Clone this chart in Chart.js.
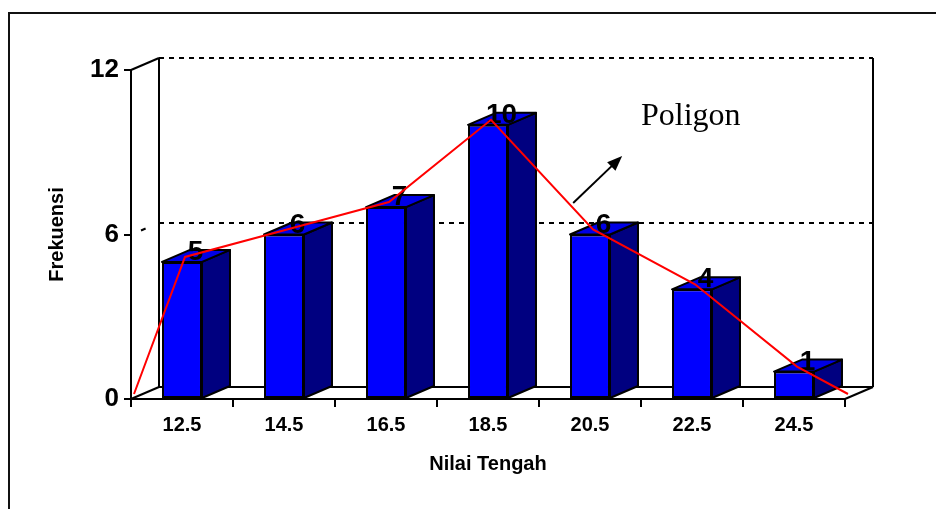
<!DOCTYPE html>
<html>
<head>
<meta charset="utf-8">
<script src="https://cdn.jsdelivr.net/npm/chart.js@4/dist/chart.umd.min.js"></script>
<style>
  html, body { margin: 0; padding: 0; background: #fff; }
  canvas { display: block; }
</style>
</head>
<body>
<canvas id="grafik" width="936" height="509"></canvas>
<script>
// Distribusi frekuensi: nilai tengah kelas dan frekuensinya
const nilaiTengah = ['12.5', '14.5', '16.5', '18.5', '20.5', '22.5', '24.5'];
const frekuensi = [5, 6, 7, 10, 6, 4, 1];
const tickFrekuensi = [0, 6, 12];

// Poligon frekuensi: ditutup di tepi kelas paling bawah dan paling atas
const poligonX = [11.5, 12.5, 14.5, 16.5, 18.5, 20.5, 22.5, 24.5, 25.5];
const poligonY = [0, 5, 6, 7, 10, 6, 4, 1, 0];

const FONT = '"Liberation Sans", Arial, sans-serif';
const KEDALAMAN = { x: 28, y: -12 };   // geseran semu 3D ke belakang

function garis(ctx, x1, y1, x2, y2) {
  ctx.beginPath(); ctx.moveTo(x1, y1); ctx.lineTo(x2, y2); ctx.stroke();
}

// Bingkai luar, dinding belakang, lantai dan garis bantu bergaya 3D
const bingkai3D = {
  id: 'bingkai3D',
  beforeDraw(chart) {
    const ctx = chart.ctx;
    ctx.save();
    ctx.strokeStyle = '#111'; ctx.lineWidth = 2;
    ctx.beginPath(); ctx.moveTo(9, chart.height); ctx.lineTo(9, 13); ctx.lineTo(chart.width, 13); ctx.stroke();
    ctx.restore();
  },
  beforeDatasetsDraw(chart) {
    const { ctx, chartArea: { left, right, top, bottom }, scales: { y } } = chart;
    const dx = KEDALAMAN.x, dy = KEDALAMAN.y;
    const y6 = y.getPixelForValue(6);
    const yBelakang6 = Math.round(y6 + dy);
    const yBelakang12 = Math.round(top + dy);
    ctx.save();
    ctx.strokeStyle = '#000'; ctx.lineWidth = 2;
    garis(ctx, left, top, left + dx, top + dy);
    garis(ctx, left + dx, top + dy, left + dx, bottom + dy);
    garis(ctx, right + dx, top + dy, right + dx, bottom + dy);
    garis(ctx, left + dx, bottom + dy, right + dx, bottom + dy);
    garis(ctx, left, bottom, left + dx, bottom + dy);
    garis(ctx, right, bottom, right + dx, bottom + dy);
    ctx.setLineDash([5, 5]);
    garis(ctx, left + dx, yBelakang12, right + dx, yBelakang12);
    garis(ctx, left + dx, yBelakang6, right + dx, yBelakang6);
    garis(ctx, left + 10, y6 - 4, left + 17, y6 - 7);
    ctx.restore();
  },
  beforeDatasetDraw(chart, args) {
    if (args.index === 1) {
      chart.ctx.save();
      chart.ctx.translate(3, -5);
    }
  },
  afterDatasetDraw(chart, args) {
    const ctx = chart.ctx;
    if (args.index === 1) { ctx.restore(); return; }
    if (args.index !== 0) return;
    const dx = KEDALAMAN.x, dy = KEDALAMAN.y;
    ctx.save();
    ctx.strokeStyle = '#000'; ctx.lineWidth = 2; ctx.lineJoin = 'round';
    args.meta.data.forEach((bar, i) => {
      const { x, y, width, base } = bar.getProps(['x', 'y', 'width', 'base'], true);
      const l = x - width / 2, r = x + width / 2;
      // sisi kanan
      ctx.beginPath();
      ctx.moveTo(r, y); ctx.lineTo(r + dx, y + dy); ctx.lineTo(r + dx, base + dy); ctx.lineTo(r, base);
      ctx.closePath(); ctx.fillStyle = '#000080'; ctx.fill(); ctx.stroke();
      // sisi atas
      ctx.beginPath();
      ctx.moveTo(l, y); ctx.lineTo(l + dx, y + dy); ctx.lineTo(r + dx, y + dy); ctx.lineTo(r, y);
      ctx.closePath(); ctx.fillStyle = '#0000e6'; ctx.fill(); ctx.stroke();
      // label nilai
      ctx.fillStyle = '#000';
      ctx.font = 'bold 28px ' + FONT;
      ctx.textAlign = 'center'; ctx.textBaseline = 'alphabetic';
      ctx.fillText(String(frekuensi[i]), x + 13.5, y - 2);
    });
    ctx.restore();
  },
  afterDraw(chart) {
    const { ctx, scales: { xl, y } } = chart;
    ctx.save();
    ctx.fillStyle = '#000';
    ctx.font = '32px "Liberation Serif", "Times New Roman", serif';
    ctx.textAlign = 'left'; ctx.textBaseline = 'alphabetic';
    ctx.fillText('Poligon', xl.getPixelForValue(21.5), y.getPixelForValue(10));
    // panah penunjuk
    const x1 = xl.getPixelForValue(20.17), y1 = y.getPixelForValue(7.15);
    const x2 = xl.getPixelForValue(21.13), y2 = y.getPixelForValue(8.86);
    const a = Math.atan2(y2 - y1, x2 - x1);
    ctx.strokeStyle = '#000'; ctx.lineWidth = 2;
    garis(ctx, x1, y1, x2 - 8 * Math.cos(a), y2 - 8 * Math.sin(a));
    ctx.beginPath();
    ctx.moveTo(x2, y2);
    ctx.lineTo(x2 - 15 * Math.cos(a) + 6 * Math.sin(a), y2 - 15 * Math.sin(a) - 6 * Math.cos(a));
    ctx.lineTo(x2 - 15 * Math.cos(a) - 6 * Math.sin(a), y2 - 15 * Math.sin(a) + 6 * Math.cos(a));
    ctx.closePath(); ctx.fill();
    ctx.restore();
  }
};

new Chart(document.getElementById('grafik'), {
  type: 'bar',
  data: {
    labels: nilaiTengah,
    datasets: [
      {
        type: 'bar',
        label: 'Frekuensi',
        data: frekuensi,
        xAxisID: 'x', yAxisID: 'y',
        backgroundColor: '#0000ff',
        borderColor: '#000',
        borderWidth: 2,
        borderSkipped: false,
        grouped: false,
        categoryPercentage: 1,
        barPercentage: 0.392,
        order: 1
      },
      {
        type: 'line',
        label: 'Poligon',
        data: poligonX.map((x, i) => ({ x, y: poligonY[i] })),
        xAxisID: 'xl', yAxisID: 'y',
        borderColor: '#ff0000',
        borderWidth: 2,
        pointRadius: 0,
        tension: 0,
        fill: false,
        clip: false,
        order: 0
      }
    ]
  },
  options: {
    responsive: false,
    animation: false,
    devicePixelRatio: 1,
    layout: { padding: { left: 0, top: 70, right: 91, bottom: 0 } },
    plugins: { legend: { display: false }, tooltip: { enabled: false }, title: { display: false } },
    scales: {
      x: {
        type: 'category',
        position: 'bottom',
        offset: true,
        afterFit(s) { s.height = 110; },
        grid: { display: true, offset: true, drawOnChartArea: false, drawTicks: true, tickLength: 8, color: '#000', lineWidth: 2 },
        border: { display: true, color: '#000', width: 2 },
        ticks: { color: '#000', padding: 6, font: { family: FONT, size: 20, weight: 'bold' }, maxRotation: 0 },
        title: { display: true, text: 'Nilai Tengah', color: '#000', font: { family: FONT, size: 20, weight: 'bold' }, padding: { top: 0, bottom: 33 } }
      },
      xl: {
        type: 'linear',
        display: false,
        offset: false,
        grid: { offset: false },
        min: 11.5,
        max: 25.5
      },
      y: {
        type: 'linear',
        position: 'left',
        min: 0,
        max: 12,
        afterFit(s) { s.width = 131; },
        afterBuildTicks(s) { s.ticks = tickFrekuensi.map(v => ({ value: v })); },
        grid: { display: true, drawOnChartArea: false, drawTicks: true, tickLength: 7, color: '#000', lineWidth: 2 },
        border: { display: true, color: '#000', width: 2 },
        ticks: { color: '#000', padding: 5, font: { family: FONT, size: 26, weight: 'bold' } },
        title: { display: true, text: 'Frekuensi', color: '#000', font: { family: FONT, size: 20, weight: 'bold' }, padding: { top: 45, bottom: 0 } }
      }
    }
  },
  plugins: [bingkai3D]
});
</script>
</body>
</html>
